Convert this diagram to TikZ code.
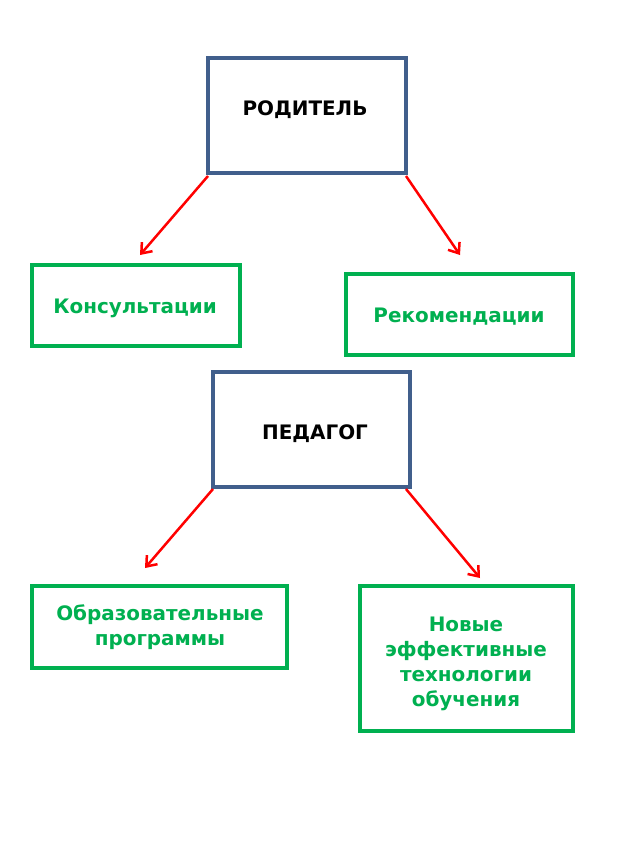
\documentclass[tikz,border=0pt]{standalone}
\usepackage{fontspec}
\setmainfont{DejaVu Sans}
\usetikzlibrary{arrows.meta}
\begin{document}
\begin{tikzpicture}[x=1bp,y=-1bp,
  bbox/.style={draw={rgb,255:red,65;green,95;blue,140},line width=3.5bp,fill=white},
  gbox/.style={draw={rgb,255:red,0;green,176;blue,80},line width=3.5bp,fill=white},
  gtext/.style={text={rgb,255:red,0;green,176;blue,80},font=\bfseries\fontsize{20}{25}\selectfont,align=center,inner sep=0pt},
  btext/.style={font=\bfseries\fontsize{20}{25}\selectfont,inner sep=0pt},
  arr/.style={draw=red,line width=2.5bp,-{Straight Barb[length=9bp,width=14bp,line width=2.5bp]}}]
\useasboundingbox (0,0) rectangle (640,853);
\draw[bbox] (208,58) rectangle (406,173);
\node[btext] (rod) at (305,110) {РОДИТЕЛЬ};
\draw[gbox] (32,265) rectangle (240,346);
\node[gtext] (kon) at (135,308) {Консультации};
\draw[gbox] (346,274) rectangle (573,355);
\node[gtext] (rek) at (459,317) {Рекомендации};
\draw[bbox] (213,372) rectangle (410,487);
\node[btext] (ped) at (315,434) {ПЕДАГОГ};
\draw[gbox] (32,586) rectangle (287,668);
\node[gtext] (obr) at (160,627) {Образовательные\\программы};
\draw[gbox] (360,586) rectangle (573,731);
\node[gtext] (nov) at (466,664) {Новые\\эффективные\\технологии\\обучения};
\coordinate (a1) at (208,176); \coordinate (a1e) at (140,255);
\coordinate (a2) at (406,176); \coordinate (a2e) at (460,255);
\coordinate (a3) at (213,489); \coordinate (a3e) at (145,568);
\coordinate (a4) at (406,489); \coordinate (a4e) at (480,578);
\draw[arr] (a1) -- (a1e);
\draw[arr] (a2) -- (a2e);
\draw[arr] (a3) -- (a3e);
\draw[arr] (a4) -- (a4e);
\end{tikzpicture}
\end{document}
